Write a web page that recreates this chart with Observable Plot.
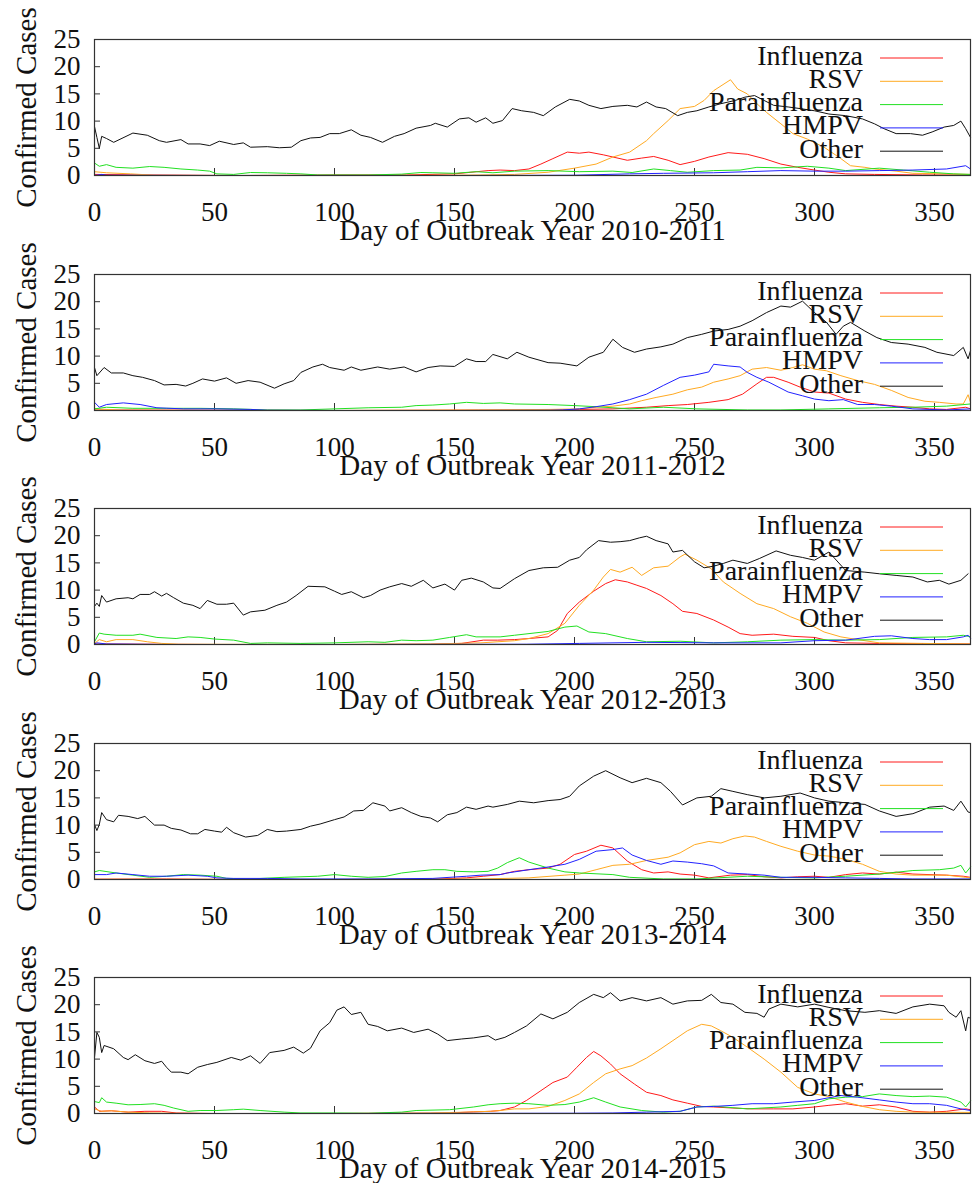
<!DOCTYPE html>
<html>
<head>
<meta charset="utf-8">
<script src="https://cdn.jsdelivr.net/npm/d3@7"></script>
<script src="https://cdn.jsdelivr.net/npm/@observablehq/plot@0.6"></script>
<style>
  body { margin: 0; background: #fff; }
  #chart { width: 975px; padding-bottom: 12px; }
  .panel { position: relative; width: 975px; }
  .panel svg { overflow: visible; }
  .legend { position: absolute; left: 0; top: 0; pointer-events: none; }
</style>
</head>
<body>
<div id="chart"></div>
<script>
// ---------- DATA: [day, confirmed cases] ----------
// 2010-2011
const flu2010 = [[0,0.2],[20,0.1],[60,0],[100,0.1],[130,0.1],[150,0.3],[164,0.9],[169,1.0],[175,0.9],[181,1.2],[186,2.1],[191,3.1],[197,4.3],[202,4.1],[206,4.3],[212,3.8],[216,3.4],[222,2.8],[228,3.2],[233,3.5],[239,2.8],[244,2.0],[250,2.6],[256,3.4],[264,4.2],[272,3.9],[279,3.1],[286,2.1],[293,1.5],[300,1.0],[306,0.6],[313,0.3],[325,0.2],[345,0.1],[365,0.1]];
const rsv2010 = [[0,0.7],[5,0.5],[15,0.3],[25,0.05],[50,0],[100,0],[150,0.05],[161,0.1],[175,0.2],[189,0.6],[200,1.35],[209,2.1],[216,3.4],[223,4.3],[230,6.4],[233,7.7],[239,10.1],[244,12.3],[250,12.7],[254,13.8],[258,15.6],[265,17.6],[268,15.9],[272,15.0],[276,13.2],[280,11.6],[286,9.5],[291,7.7],[297,6.7],[304,5.2],[311,3.1],[315,1.8],[321,1.5],[325,1.2],[334,0.8],[341,0.4],[355,0.3],[365,0.2]];
const para2010 = [[0,2.3],[2,1.7],[5,2.0],[9,1.5],[16,1.35],[23,1.65],[29,1.5],[36,1.2],[43,1.0],[48,0.8],[51,0.3],[58,0.2],[65,0.55],[72,0.5],[80,0.4],[86,0.3],[93,0.1],[100,0.1],[114,0.1],[128,0.25],[136,0.55],[141,0.5],[150,0.4],[159,0.7],[166,0.5],[175,0.8],[189,0.9],[202,0.7],[216,0.8],[224,0.55],[233,1.2],[240,0.9],[247,0.6],[258,0.9],[269,1.0],[276,1.5],[286,1.4],[297,1.7],[306,1.35],[313,0.9],[327,1.35],[337,1.0],[348,0.6],[358,0.3],[365,0.2]];
const hmpv2010 = [[0,0],[3,0.2],[5,0.05],[50,0],[100,0],[150,0],[200,0.05],[223,0.3],[237,0.4],[258,0.5],[272,0.7],[286,0.9],[300,0.8],[313,0.8],[327,0.9],[341,1.0],[355,1.2],[363,1.8],[365,1.2]];
const other2010 = [[0,9],[1,7],[2,5],[3,7.2],[5,6.8],[8,6.1],[16,7.8],[22,7.4],[27,6.4],[30,6.1],[36,6.6],[39,5.8],[44,5.8],[48,5.5],[52,6.3],[58,5.7],[62,6.0],[65,5.2],[72,5.3],[77,5.1],[82,5.2],[86,6.4],[90,6.9],[94,7.0],[98,7.7],[102,7.7],[107,8.4],[111,7.4],[115,7.0],[120,6.1],[125,7.2],[129,7.7],[134,8.7],[140,9.2],[142,9.6],[147,8.9],[152,10.4],[156,10.6],[159,9.8],[163,10.6],[166,9.6],[170,10.1],[174,12.3],[178,11.9],[183,11.6],[187,11.0],[192,12.6],[198,14.0],[202,13.7],[206,12.9],[211,12.3],[216,12.7],[222,12.9],[226,12.6],[230,13.5],[234,12.6],[238,12.3],[243,11.0],[247,11.6],[251,11.9],[256,12.6],[261,13.2],[267,13.8],[271,14.4],[275,14.7],[279,13.8],[283,12.9],[289,12.6],[294,12.3],[300,11.9],[306,11.3],[313,11.0],[320,10.4],[325,9.5],[329,8.6],[334,7.7],[340,7.7],[345,7.4],[349,8.0],[354,8.9],[358,9.2],[361,10.0],[363,8.6],[365,7.0]];
// 2011-2012
const flu2011 = [[0,0.1],[100,0],[189,0.1],[202,0.2],[216,0.3],[230,0.6],[239,0.9],[247,1.1],[256,1.5],[264,2.0],[270,3.0],[276,4.9],[280,6.1],[283,6.1],[289,5.2],[294,4.3],[300,3.4],[306,3.2],[313,2.1],[320,1.5],[327,1.1],[334,0.8],[341,0.6],[348,0.3],[355,0.2],[363,0.6],[365,0.3]];
const rsv2011 = [[0,0.3],[5,0.2],[10,0.05],[100,0],[160,0.1],[190,0.2],[202,0.3],[209,0.6],[216,0.8],[223,1.2],[228,1.8],[234,2.4],[241,3.0],[247,3.8],[253,4.3],[258,5.2],[264,5.8],[269,6.4],[274,7.6],[280,7.9],[286,7.4],[291,7.9],[295,8.4],[300,7.6],[305,7.3],[311,6.4],[318,5.5],[325,4.8],[332,3.7],[339,2.4],[346,1.7],[352,1.5],[359,1.2],[362,1.2],[364,2.9],[365,1.5]];
const para2011 = [[0,0.3],[5,0.6],[16,0.4],[30,0.4],[44,0.4],[58,0.3],[72,0.1],[86,0.1],[100,0.3],[114,0.5],[128,0.6],[134,0.9],[141,1.0],[148,1.2],[155,1.5],[162,1.3],[169,1.4],[175,1.2],[189,1.1],[200,0.9],[209,0.7],[223,0.3],[237,0.6],[251,0.3],[272,0.1],[286,0.1],[306,0.3],[327,0.5],[341,0.6],[355,0.8],[365,1.2]];
const hmpv2011 = [[0,1.5],[2,0.6],[5,1.1],[12,1.4],[19,1.1],[26,0.5],[37,0.3],[51,0.3],[65,0.2],[72,0.05],[100,0],[150,0],[190,0.05],[195,0.1],[202,0.3],[209,0.7],[216,1.2],[223,2.0],[230,3.0],[237,4.6],[244,6.1],[250,6.5],[256,7.1],[258,8.5],[264,8.2],[269,8.0],[272,7.0],[276,6.1],[281,5.2],[289,3.4],[295,2.7],[300,2.1],[306,1.8],[312,2.0],[318,1.1],[325,1.1],[332,0.8],[341,0.3],[355,0.1],[365,0.3]];
const other2011 = [[0,7.9],[1,6.4],[4,7.9],[7,6.9],[12,6.9],[16,6.4],[20,6.1],[25,5.5],[29,4.7],[34,4.8],[38,4.5],[41,5.0],[45,5.8],[50,5.4],[55,6.0],[59,5.0],[64,5.5],[69,5.2],[75,4.1],[79,4.9],[83,5.5],[86,7.0],[91,8.0],[95,8.5],[98,7.9],[104,7.4],[107,8.0],[111,7.4],[118,8.0],[123,7.6],[129,8.0],[134,7.1],[139,7.9],[144,8.2],[150,8.1],[155,9.5],[159,9.0],[163,9.0],[166,10.3],[172,9.5],[176,10.7],[181,9.8],[189,8.8],[194,8.7],[201,8.2],[206,9.8],[212,10.7],[216,13.1],[220,11.6],[225,10.7],[230,11.3],[236,11.7],[241,12.2],[247,13.4],[253,14.0],[258,14.6],[264,14.9],[269,15.5],[274,16.5],[280,18.0],[286,19.2],[290,19.0],[295,20.1],[300,18.0],[305,16.2],[309,14.0],[312,15.5],[315,16.2],[321,14.6],[326,13.4],[332,12.5],[339,12.2],[346,11.6],[351,10.7],[358,10.1],[362,11.6],[364,9.5],[365,11.0]];
// 2012-2013
const flu2012 = [[0,0.1],[50,0],[100,0],[140,0.05],[153,0.2],[162,0.8],[168,0.8],[175,0.9],[181,1.1],[189,1.4],[193,2.6],[197,5.7],[202,7.8],[208,9.8],[213,11.2],[217,11.9],[222,11.5],[226,10.9],[230,10.3],[236,9.0],[241,7.5],[245,6.1],[251,5.7],[258,4.5],[264,3.2],[269,2.0],[274,1.7],[283,1.9],[291,1.5],[300,1.3],[306,0.7],[313,0.3],[327,0.2],[365,0.1]];
const rsv2012 = [[0,0.2],[2,0.9],[5,0.5],[9,0.9],[16,0.9],[22,0.5],[28,0.2],[35,0.05],[100,0],[140,0.1],[161,0.3],[175,0.7],[181,1.1],[189,2.0],[196,3.9],[202,7.2],[208,10.0],[212,12.4],[215,13.8],[219,13.3],[224,14.2],[228,12.7],[233,14.1],[239,14.4],[244,16.1],[246,16.6],[251,15.5],[257,13.9],[262,11.5],[269,9.4],[276,7.5],[283,6.6],[290,5.1],[297,3.9],[304,2.3],[311,1.4],[318,0.9],[327,0.3],[345,0.2],[365,0.1]];
const para2012 = [[0,0.5],[2,2.1],[4,1.9],[9,1.7],[16,1.7],[19,1.9],[26,1.3],[34,1.1],[39,1.4],[44,1.3],[50,1.0],[58,0.8],[65,0.2],[72,0.3],[86,0.2],[100,0.3],[114,0.5],[121,0.4],[128,0.8],[134,0.7],[141,0.8],[148,1.3],[155,1.8],[159,1.4],[169,1.4],[175,1.7],[189,2.4],[196,3.2],[201,3.4],[206,2.3],[213,2.0],[222,1.1],[230,0.5],[244,0.6],[258,0.3],[272,0.5],[286,0.8],[300,0.9],[313,0.8],[327,0.9],[341,1.3],[355,1.4],[362,1.7],[365,1.4]];
const hmpv2012 = [[0,0.1],[1,0.3],[5,0.1],[30,0],[100,0],[180,0.05],[202,0.2],[230,0.4],[258,0.3],[286,0.3],[300,0.7],[313,0.8],[325,1.5],[332,1.6],[341,1.1],[348,0.9],[355,0.9],[362,1.4],[364,1.7],[365,1.2]];
const other2012 = [[0,7.0],[1,7.6],[2,7.0],[3,9.0],[5,7.8],[9,8.4],[14,8.6],[16,8.4],[19,9.2],[23,9.2],[25,9.7],[28,8.9],[30,9.4],[33,8.6],[37,7.6],[41,7.2],[44,6.6],[47,8.1],[51,7.4],[55,7.4],[58,7.6],[62,5.4],[65,6.0],[71,6.3],[76,7.2],[80,7.8],[84,9.0],[89,10.7],[96,10.6],[100,9.8],[103,9.2],[107,9.7],[112,8.6],[115,9.0],[119,10.0],[123,10.6],[128,11.2],[132,10.7],[137,11.8],[141,10.4],[146,11.1],[150,10.0],[153,11.8],[157,12.2],[162,11.5],[166,10.4],[169,10.3],[175,12.1],[181,13.6],[187,14.1],[193,14.2],[198,15.5],[202,16.0],[205,17.4],[210,19.1],[215,18.8],[219,18.9],[223,19.1],[227,19.6],[230,19.9],[234,19.1],[239,18.5],[241,17.0],[245,17.3],[250,15.2],[254,14.1],[258,14.4],[262,14.9],[266,15.5],[272,14.9],[277,15.8],[284,17.2],[290,16.4],[295,16.0],[300,15.5],[306,17.0],[313,13.6],[321,13.3],[327,13.0],[334,12.7],[341,12.4],[347,11.5],[352,11.8],[356,11.1],[361,11.8],[364,13.0]];
// 2013-2014
const flu2013 = [[0,0.05],[25,0.1],[30,0.1],[60,0],[100,0],[140,0.05],[155,0.3],[162,0.6],[169,0.9],[175,1.5],[181,1.8],[189,2.1],[194,2.8],[200,4.6],[205,5.2],[211,6.3],[216,5.8],[222,3.4],[228,1.8],[233,1.2],[239,1.4],[244,1.0],[250,0.8],[256,0.3],[265,0.8],[272,0.9],[279,0.5],[286,0.3],[293,0.5],[300,0.6],[306,0.4],[313,0.9],[320,1.2],[327,1.0],[334,1.35],[341,1.0],[355,0.8],[362,0.6],[365,0.4]];
const rsv2013 = [[0,0.05],[100,0],[161,0.1],[181,0.3],[196,0.8],[202,1.0],[209,1.8],[216,2.6],[223,2.8],[230,3.5],[239,4.1],[244,4.9],[250,6.4],[256,7.0],[261,6.7],[266,7.5],[271,8.0],[275,7.8],[280,7.0],[286,6.1],[293,5.2],[300,4.5],[306,4.3],[313,3.7],[320,2.8],[327,1.5],[334,1.0],[341,0.8],[355,0.8],[363,0.4],[365,0.3]];
const para2013 = [[0,1.4],[2,1.65],[9,1.2],[16,0.8],[23,0.4],[30,0.6],[37,0.9],[44,0.8],[51,0.6],[55,0.2],[65,0.1],[79,0.4],[93,0.6],[100,0.9],[107,0.6],[114,0.4],[121,0.55],[128,1.2],[134,1.5],[141,1.8],[146,1.8],[151,1.5],[158,1.4],[164,1.5],[168,2.1],[172,3.1],[177,4.0],[181,3.2],[189,2.1],[196,1.4],[202,1.2],[216,0.9],[223,0.4],[237,0.1],[251,0.1],[272,0.6],[286,0.4],[300,0.3],[313,0.6],[327,1.0],[341,1.65],[352,1.8],[358,2.1],[361,2.6],[363,1.2],[365,2.3]];
const hmpv2013 = [[0,0.9],[5,0.9],[9,1.2],[16,0.9],[23,0.6],[30,0.6],[39,0.8],[47,0.6],[51,0.3],[58,0.2],[72,0.2],[86,0.1],[114,0.1],[141,0.2],[155,0.6],[161,0.8],[169,0.9],[172,1.2],[181,1.8],[189,2.3],[196,2.8],[202,3.7],[209,5.2],[216,5.5],[220,5.8],[224,4.5],[230,3.5],[236,2.8],[241,3.4],[247,3.2],[253,2.9],[258,2.5],[264,1.2],[272,1.0],[279,0.8],[286,0.4],[300,0.4],[313,0.3],[327,0.2],[341,0.1],[365,0.1]];
const other2013 = [[0,10.1],[1,9.0],[2,10.1],[3,12.3],[5,11.0],[8,10.6],[10,11.8],[14,11.6],[18,11.2],[21,11.6],[25,10.0],[29,10.0],[32,9.4],[36,9.1],[40,8.4],[43,8.4],[46,9.2],[50,8.9],[53,8.7],[55,9.6],[58,8.6],[63,7.8],[68,8.1],[72,9.2],[76,8.8],[80,8.9],[86,9.2],[90,9.8],[94,10.2],[100,11.0],[104,11.5],[108,12.6],[112,12.7],[116,14.1],[121,13.5],[123,12.6],[128,13.2],[132,12.3],[136,11.6],[140,11.3],[143,10.6],[147,11.9],[151,12.3],[155,13.3],[159,12.9],[164,13.5],[166,13.3],[172,13.8],[177,14.4],[183,14.1],[189,14.5],[194,14.7],[198,15.3],[202,17.2],[208,19.0],[213,20.0],[219,18.7],[224,17.8],[230,18.6],[236,17.8],[240,16.2],[245,13.7],[251,15.0],[257,15.3],[261,16.7],[266,16.2],[272,15.6],[279,15.0],[286,15.3],[294,15.9],[300,15.0],[306,14.4],[313,14.1],[321,13.8],[327,12.6],[334,11.6],[341,12.1],[348,13.3],[354,13.5],[358,12.7],[361,14.4],[364,12.4],[365,12.3]];
// 2014-2015
const flu2014 = [[0,1.2],[2,0.4],[7,0.5],[14,0.25],[21,0.4],[28,0.4],[34,0.1],[50,0],[100,0],[140,0.05],[148,0.1],[158,0.3],[165,0.4],[169,0.55],[175,1.2],[180,2.4],[186,4.2],[191,5.7],[197,6.7],[201,8.5],[205,10.3],[208,11.4],[211,10.6],[215,9.1],[219,7.3],[225,5.4],[230,3.9],[236,3.3],[241,2.5],[247,1.9],[253,1.3],[258,1.2],[266,1.0],[274,0.85],[283,0.85],[291,0.85],[300,1.2],[306,1.5],[313,1.8],[320,1.35],[327,1.6],[334,1.2],[341,0.4],[348,0.25],[355,0.4],[363,0.85],[365,0.7]];
const rsv2014 = [[0,0.85],[3,0.4],[7,0.5],[14,0.25],[23,0.1],[40,0],[100,0],[140,0.1],[155,0.25],[165,0.4],[169,0.55],[175,0.85],[181,0.85],[189,1.3],[196,2.4],[202,3.6],[208,5.7],[213,7.3],[219,8.2],[224,8.8],[230,10.2],[236,11.9],[241,13.4],[247,15.2],[253,16.4],[257,16.1],[261,15.2],[266,14.0],[272,12.2],[279,10.0],[286,7.6],[293,4.8],[300,3.6],[306,3.1],[313,2.1],[320,1.3],[327,0.7],[334,0.4],[341,0.25],[365,0.2]];
const para2014 = [[0,2.2],[2,2.0],[3,2.9],[5,2.1],[9,1.9],[14,1.6],[19,1.65],[25,1.8],[29,1.5],[33,1.0],[39,0.4],[44,0.55],[51,0.55],[58,0.7],[62,0.8],[69,0.55],[79,0.25],[86,0.1],[100,0.1],[114,0.05],[128,0.25],[134,0.55],[148,0.7],[158,1.2],[164,1.6],[169,1.8],[175,1.9],[181,1.8],[189,1.5],[196,1.65],[202,2.1],[208,2.9],[213,2.1],[219,1.2],[228,0.55],[237,0.25],[244,0.4],[251,1.2],[258,1.35],[272,0.85],[286,1.2],[293,1.5],[300,1.8],[306,2.7],[313,3.0],[320,3.1],[327,3.6],[334,3.3],[341,3.1],[348,3.2],[355,3.0],[361,2.1],[363,1.2],[365,2.3]];
const hmpv2014 = [[0,0],[100,0],[200,0.05],[216,0.1],[230,0.25],[244,0.4],[251,1.2],[258,1.3],[266,1.5],[274,1.8],[283,1.8],[291,2.1],[300,2.4],[306,2.9],[311,3.3],[318,3.0],[327,2.5],[334,2.1],[341,1.8],[348,1.8],[355,1.5],[361,0.85],[365,0.55]];
const other2014 = [[0,10.3],[1,14.9],[2,14.0],[3,11.2],[4,12.5],[8,11.9],[12,10.3],[14,9.9],[17,10.8],[21,9.7],[25,9.2],[28,9.6],[30,8.5],[32,7.6],[36,7.6],[39,7.3],[43,8.5],[47,9.0],[51,9.4],[57,10.3],[61,9.8],[65,10.6],[69,9.2],[73,11.2],[79,11.6],[83,12.2],[87,11.1],[90,12.0],[94,15.2],[98,16.7],[101,19.0],[104,19.6],[107,18.2],[111,18.6],[114,16.4],[118,16.0],[122,15.2],[128,15.7],[133,14.9],[139,15.5],[143,14.6],[147,13.4],[153,13.7],[158,13.9],[164,14.3],[167,13.5],[171,14.0],[175,14.9],[180,16.1],[186,18.3],[191,17.4],[197,18.6],[202,20.4],[208,21.9],[212,21.3],[215,22.2],[219,20.7],[224,21.3],[230,20.7],[236,21.3],[241,20.1],[247,20.7],[253,20.8],[257,21.9],[261,20.4],[266,20.1],[271,18.6],[276,18.4],[279,17.7],[281,19.2],[286,20.1],[293,19.6],[300,20.1],[306,19.5],[313,18.9],[321,18.6],[327,18.9],[334,18.4],[341,19.6],[348,20.1],[354,19.8],[356,18.6],[359,17.7],[361,18.9],[363,15.2],[364,17.7],[365,17.5]];

const seriesNames = ["Influenza", "RSV", "Parainfluenza", "HMPV", "Other"];
const seriesColors = ["#ff1a1a", "#ffaa22", "#22e022", "#2222ff", "#111111"];
const years = ["2010-2011", "2011-2012", "2012-2013", "2013-2014", "2014-2015"];
const xTicks = [0, 50, 100, 150, 200, 250, 300, 350];
const yTicks = [0, 5, 10, 15, 20, 25];
const yearSeries = [
  [flu2010, rsv2010, para2010, hmpv2010, other2010],
  [flu2011, rsv2011, para2011, hmpv2011, other2011],
  [flu2012, rsv2012, para2012, hmpv2012, other2012],
  [flu2013, rsv2013, para2013, hmpv2013, other2013],
  [flu2014, rsv2014, para2014, hmpv2014, other2014]
];

// ---------- LAYOUT ----------
const FONT = "'Liberation Serif', 'Times New Roman', serif";
const FS = 27;      // tick labels
const FT = 29;      // axis titles
const W = 975, H = 234.5;
const mTop = 39, mBottom = 59.5, mLeft = 94, mRight = 5;
const frameH = H - mTop - mBottom;
const frameW = W - mLeft - mRight;

const chart = document.getElementById("chart");

years.forEach((year, k) => {
  const rows = [];
  yearSeries[k].forEach((arr, i) => arr.forEach(([d, v]) => rows.push({day: d, value: v, virus: seriesNames[i]})));

  const plot = Plot.plot({
    width: W, height: H,
    marginTop: mTop, marginBottom: mBottom, marginLeft: mLeft, marginRight: mRight,
    style: {fontFamily: FONT, fontSize: FS + "px", color: "#111", background: "none", overflow: "visible"},
    x: {domain: [0, 365]},
    y: {domain: [0, 25]},
    color: {domain: seriesNames, range: seriesColors},
    marks: [
      Plot.ruleX(xTicks, {stroke: "#333", strokeWidth: 1, insetTop: frameH - 7}),
      Plot.ruleY(yTicks, {stroke: "#333", strokeWidth: 1, insetRight: frameW - 6}),
      Plot.line(rows, {x: "day", y: "value", z: "virus", stroke: "virus", strokeWidth: 1}),
      Plot.frame({stroke: "#333", strokeWidth: 1.2}),
      Plot.axisX(xTicks, {tickSize: 0, tickPadding: 26, fontSize: FS, label: null}),
      Plot.axisY(yTicks, {tickSize: 0, tickPadding: 14, fontSize: FS, label: null}),
      Plot.text([`Day of Outbreak Year ${year}`], {frameAnchor: "bottom", lineAnchor: "middle", textAnchor: "middle", dy: 55, fontSize: FT}),
      Plot.text(["Confirmed Cases"], {frameAnchor: "left", lineAnchor: "middle", textAnchor: "middle", dx: -68, rotate: -90, fontSize: FT})
    ]
  });

  const panel = document.createElement("div");
  panel.className = "panel";
  panel.style.height = H + "px";
  panel.appendChild(plot);

  // legend (inside the frame, top right, gnuplot style)
  const ns = "http://www.w3.org/2000/svg";
  const leg = document.createElementNS(ns, "svg");
  leg.setAttribute("class", "legend");
  leg.setAttribute("width", W);
  leg.setAttribute("height", H);
  seriesNames.forEach((name, i) => {
    const cy = mTop + 19 + i * 23.3;
    const t = document.createElementNS(ns, "text");
    t.setAttribute("x", 863);
    t.setAttribute("y", cy + 6.5);
    t.setAttribute("text-anchor", "end");
    t.setAttribute("font-family", FONT);
    t.setAttribute("font-size", 28);
    t.setAttribute("fill", "#111");
    t.textContent = name;
    leg.appendChild(t);
    const l = document.createElementNS(ns, "line");
    l.setAttribute("x1", 880); l.setAttribute("x2", 943);
    l.setAttribute("y1", cy); l.setAttribute("y2", cy);
    l.setAttribute("stroke", seriesColors[i]);
    l.setAttribute("stroke-width", 1);
    leg.appendChild(l);
  });
  panel.appendChild(leg);
  chart.appendChild(panel);
});
</script>
</body>
</html>
